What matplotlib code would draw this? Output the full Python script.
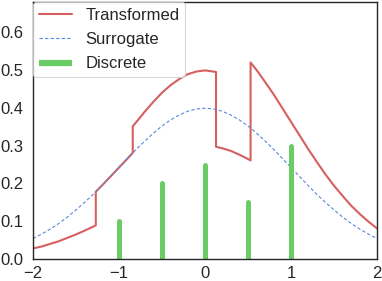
import numpy as np
import matplotlib
matplotlib.use("Agg")
import matplotlib.pyplot as plt

# surrogate density
surr_x = [-2.0, -1.9, -1.8, -1.7, -1.6, -1.5, -1.4, -1.3, -1.2, -1.1, -1.0,
          -0.9, -0.8, -0.7, -0.6, -0.5, -0.4, -0.3, -0.2, -0.1, 0.0,
          0.1, 0.2, 0.3, 0.4, 0.5, 0.6, 0.7, 0.8, 0.9, 1.0,
          1.1, 1.2, 1.3, 1.4, 1.5, 1.6, 1.7, 1.8, 1.9, 2.0]
surr_y = [0.054, 0.066, 0.079, 0.094, 0.111, 0.130, 0.150, 0.171, 0.194, 0.218, 0.242,
          0.266, 0.290, 0.312, 0.333, 0.352, 0.368, 0.381, 0.391, 0.397, 0.399,
          0.397, 0.391, 0.381, 0.368, 0.352, 0.333, 0.312, 0.290, 0.266, 0.242,
          0.218, 0.194, 0.171, 0.150, 0.130, 0.111, 0.094, 0.079, 0.066, 0.054]

# transformed density (piecewise, with jumps)
trans_x = [-2.0, -1.9, -1.8, -1.7, -1.6, -1.5, -1.4, -1.27,
           -1.27, -1.2, -1.1, -1.0, -0.9, -0.84,
           -0.84, -0.8, -0.7, -0.6, -0.5, -0.4, -0.3, -0.2, -0.1, 0.0, 0.128,
           0.128, 0.2, 0.3, 0.4, 0.53,
           0.53, 0.6, 0.7, 0.8, 0.9, 1.0, 1.1, 1.2, 1.3, 1.4, 1.5, 1.6, 1.7, 1.8, 1.9, 2.0]
trans_y = [0.028, 0.033, 0.040, 0.047, 0.056, 0.065, 0.075, 0.089,
           0.178, 0.194, 0.218, 0.242, 0.266, 0.281,
           0.351, 0.362, 0.390, 0.416, 0.440, 0.460, 0.476, 0.489, 0.496, 0.499, 0.495,
           0.297, 0.293, 0.286, 0.276, 0.261,
           0.520, 0.500, 0.468, 0.435, 0.399, 0.363, 0.327, 0.291, 0.257, 0.224,
           0.194, 0.167, 0.141, 0.119, 0.099, 0.081]

# discrete masses
disc_x = [-1.0, -0.5, 0.0, 0.5, 1.0]
disc_p = [0.10, 0.20, 0.25, 0.15, 0.30]

plt.style.use("seaborn-v0_8-white")
plt.rcParams['font.family'] = ['Liberation Sans', 'DejaVu Sans']

fig, ax = plt.subplots(figsize=(3.82, 2.81), dpi=100)
fig.subplots_adjust(left=33/382, right=377/382, bottom=22/281, top=279/281)

ax.plot(trans_x, trans_y, color='#d65f5f', lw=1.5, label='Transformed')
ax.plot(surr_x, surr_y, color='#5a86dc', lw=0.8, ls=(0, (3, 2)), label='Surrogate')
ax.vlines(disc_x, 0, disc_p, color='#6acc64', lw=3.6, capstyle='round', label='Discrete')

ax.set_xlim(-2, 2)
ax.set_ylim(0, 0.68)
ax.set_xticks([-2, -1, 0, 1, 2])
ax.set_yticks([0.0, 0.1, 0.2, 0.3, 0.4, 0.5, 0.6])
ax.tick_params(labelsize=12, length=0)
ax.tick_params(axis='y', pad=7)
ax.tick_params(axis='x', pad=5)
for s in ax.spines.values():
    s.set_color('#262626')
    s.set_linewidth(1.0)

leg = ax.legend(loc='upper left', fontsize=12, frameon=True, borderaxespad=0.0,
                handlelength=2.0, labelspacing=0.56, borderpad=0.35)
leg.get_frame().set_edgecolor('#cccccc')
leg.get_frame().set_linewidth(0.8)
leg.legend_handles[2].set_linewidth(4.5)

fig.savefig("out.png", dpi=100)
